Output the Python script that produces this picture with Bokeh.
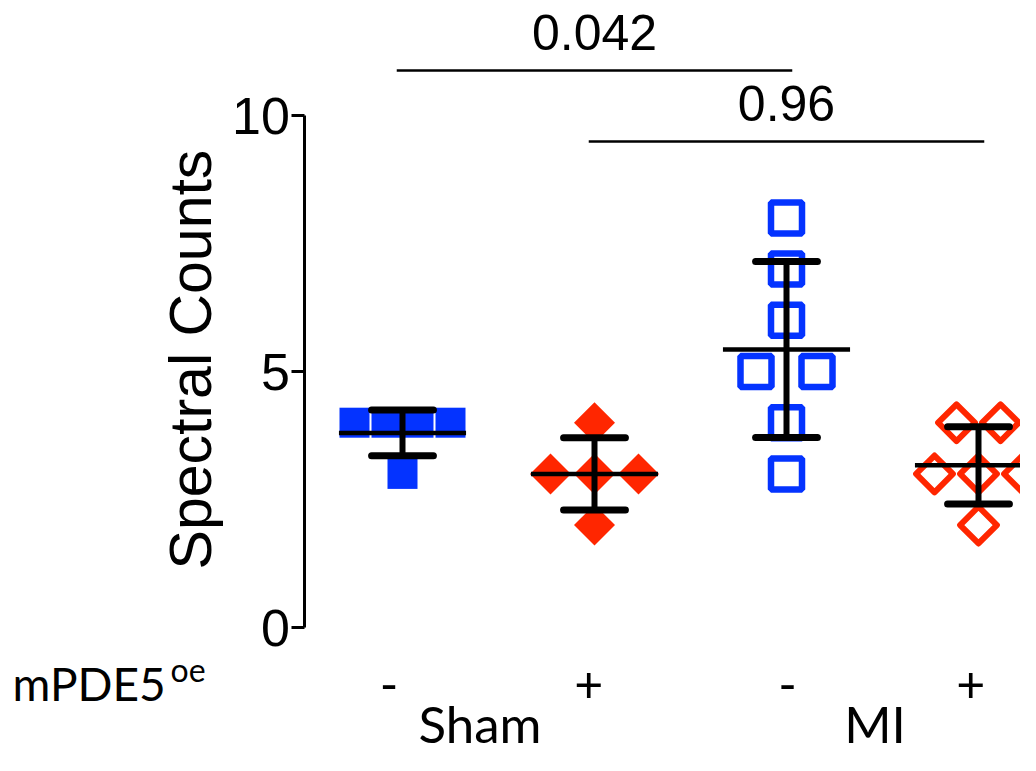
import numpy as np
from bokeh.plotting import figure
from bokeh.models import Range1d, FixedTicker, Label, LinearAxis
from bokeh.embed import file_html
from bokeh.resources import INLINE

# ---- data ----
group_x = [1, 2, 3, 4]
sham_minus = [4, 4, 4, 4, 3]
sham_plus = [4, 3, 3, 3, 2]
mi_minus = [8, 7, 6, 5, 5, 4, 3]
mi_plus = [4, 4, 3, 3, 3, 2]
treatment_labels = ["-", "+", "-", "+"]
condition_labels = ["Sham", "MI"]
factor_label = "mPDE5"
factor_sup = "oe"
y_label = "Spectral Counts"
y_ticks = [0, 5, 10]
comparisons = [(1, 3, "0.042"), (2, 4, "0.96")]

# ---- layout / style constants ----
BLUE = "#0433FF"
RED = "#FF2600"
PX = 192.0          # pixels per x unit
PY = 51.2           # pixels per y unit
W, H = 1020, 755
X0_PX = 210.0       # canvas x of data x = 0
Y0_PX = 627.0       # canvas y of data y = 0

x_start = -X0_PX / PX
x_end = (W - X0_PX) / PX
y_top = Y0_PX / PY
y_bot = (Y0_PX - H) / PY

p = figure(width=W, height=H, x_range=Range1d(x_start, x_end),
           y_range=Range1d(y_bot, y_top), output_backend="svg",
           toolbar_location=None, x_axis_location=None,
           min_border_left=0, min_border_right=0, min_border_top=0,
           min_border_bottom=0)
p.outline_line_color = None
p.grid.visible = False
p.background_fill_color = "white"
p.border_fill_color = "white"

ax = p.yaxis[0]
ax.fixed_location = 0.492
ax.ticker = FixedTicker(ticks=y_ticks, minor_ticks=[])
ax.bounds = (0, 10)
ax.axis_line_width = 3
ax.axis_line_color = "black"
ax.major_tick_line_width = 3
ax.major_tick_in = 0
ax.major_tick_out = 13
ax.minor_tick_line_color = None
ax.major_label_text_font = "Liberation Sans"
ax.major_label_text_font_size = "52px"
ax.major_label_text_color = "black"
ax.major_label_standoff = 2

# y-axis title
p.add_layout(Label(x=-0.104, y=5.234, text=y_label, angle=np.pi / 2,
                   text_align="center", text_baseline="middle",
                   text_font="Liberation Sans", text_font_size="59px",
                   text_color="black"))

# condition axis (Sham / MI)
cond_x = [1.404, 3.461]
cax = LinearAxis(fixed_location=-1.27,
                 ticker=FixedTicker(ticks=cond_x, minor_ticks=[]),
                 major_label_overrides={cx: c for cx, c in zip(cond_x, condition_labels)},
                 axis_line_color=None, major_tick_line_color=None,
                 minor_tick_line_color=None, major_tick_in=0, major_tick_out=0,
                 major_label_standoff=0, major_label_text_font="Lato",
                 major_label_text_font_size="51px", major_label_text_color="black")
p.add_layout(cax, "below")


def spread(vals, step_px):
    xs = np.zeros(len(vals))
    for v in sorted(set(vals)):
        idx = [i for i, w in enumerate(vals) if w == v]
        n = len(idx)
        for k, i in enumerate(idx):
            xs[i] = (k - (n - 1) / 2) * step_px / PX
    return xs


series = [sham_minus, sham_plus, mi_minus, mi_plus]
steps = [32, 44, 61, 44]
styles = [
    dict(marker="square", size=30, fill_color=BLUE, line_color=None, angle=0),
    dict(marker="square", size=29, fill_color=RED, line_color=None, angle=np.pi / 4),
    dict(marker="square", size=31, fill_color=None, line_color=BLUE,
         line_width=6.5, angle=0),
    dict(marker="square", size=26, fill_color=None, line_color=RED,
         line_width=6, line_join="round", angle=np.pi / 4),
]

for gx, vals, st, sty in zip(group_x, series, steps, styles):
    xs = gx + spread(vals, st)
    p.scatter(xs, vals, **sty)

# mean and SD bars
for gx, vals in zip(group_x, series):
    arr = np.array(vals, dtype=float)
    m = arr.mean()
    s = arr.std(ddof=1)
    p.segment(x0=[gx - 0.331], y0=[m], x1=[gx + 0.331], y1=[m],
              line_color="black", line_width=4.5, line_cap="butt")
    p.segment(x0=[gx], y0=[m - s], x1=[gx], y1=[m + s],
              line_color="black", line_width=6)
    p.segment(x0=[gx - 0.161, gx - 0.161], y0=[m - s, m + s],
              x1=[gx + 0.161, gx + 0.161], y1=[m - s, m + s],
              line_color="black", line_width=7, line_cap="round")

# significance brackets
bracket_y = [10.88, 9.49]
for (a, b, txt), by in zip(comparisons, bracket_y):
    p.segment(x0=[a - 0.03], y0=[by], x1=[b + 0.03], y1=[by],
              line_color="black", line_width=2.5)
    p.add_layout(Label(x=(a + b) / 2, y=by + 0.74, text=txt,
                       text_align="center", text_baseline="alphabetic",
                       text_font="Liberation Sans", text_font_size="50px",
                       text_color="black"))

# treatment row labels
label_base_y = -1.094
treat_x = [0.93, 1.97, 3.005, 3.96]
for tx, t in zip(treat_x, treatment_labels):
    p.add_layout(Label(x=tx, y=label_base_y, text=t, text_align="center",
                       text_baseline="alphabetic", text_font="Lato",
                       text_font_size="50px", text_color="black"))

p.add_layout(Label(x=-1.031, y=label_base_y, text=factor_label,
                   text_align="left", text_baseline="alphabetic",
                   text_font="Lato", text_font_size="46px", text_color="black"))
p.add_layout(Label(x=-0.208, y=-0.82, text=factor_sup,
                   text_align="left", text_baseline="alphabetic",
                   text_font="Lato", text_font_size="32px", text_color="black"))

open("out.html", "w").write(file_html(p, INLINE))
